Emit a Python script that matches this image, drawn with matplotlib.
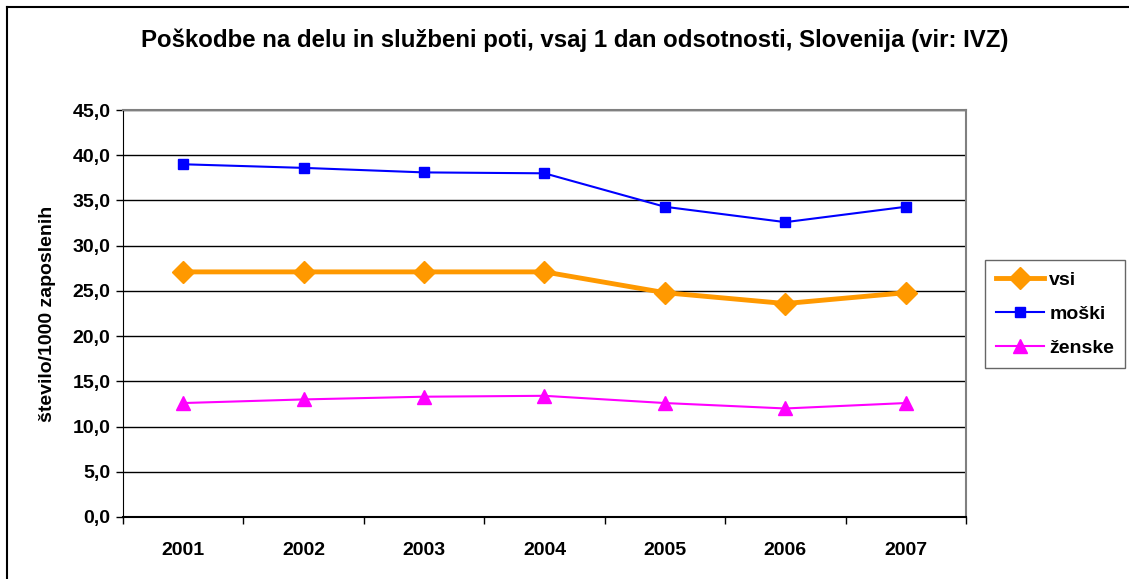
import matplotlib.pyplot as plt
from matplotlib.lines import Line2D

plt.rcParams['font.family'] = ['Liberation Sans', 'DejaVu Sans']

leta = ['2001', '2002', '2003', '2004', '2005', '2006', '2007']
vsi = [27.1, 27.1, 27.1, 27.1, 24.8, 23.6, 24.8]
moski = [39.0, 38.6, 38.1, 38.0, 34.3, 32.6, 34.3]
zenske = [12.6, 13.0, 13.3, 13.4, 12.6, 12.0, 12.6]
yticks = [0, 5, 10, 15, 20, 25, 30, 35, 40, 45]

fig = plt.figure(figsize=(11.29, 5.79), dpi=100)
ax = fig.add_axes([123/1129, 62/579, 843/1129, 407/579])

x = range(len(leta))
ax.plot(x, vsi, color='#FF9900', lw=3.5, marker='D', ms=11, label='vsi', zorder=3)
ax.plot(x, moski, color='#0000FF', lw=1.5, marker='s', ms=7, label='moški', zorder=4)
ax.plot(x, zenske, color='#FF00FF', lw=1.5, marker='^', ms=10, label='ženske', zorder=3)

ax.set_xlim(-0.5, 6.5)
ax.set_ylim(0, 45)
ax.set_yticks(yticks)
ax.set_yticklabels([('%.1f' % v).replace('.', ',') for v in yticks])
ax.tick_params(axis='y', labelsize=14, direction='out', length=5, width=1, pad=4)
for lab in ax.get_yticklabels():
    lab.set_fontweight('bold')

ax.set_xticks(list(x))
ax.set_xticklabels(leta, fontsize=14, fontweight='bold')
ax.tick_params(axis='x', length=0, pad=18)
ax.set_xticks([i - 0.5 for i in range(len(leta) + 1)], minor=True)
ax.tick_params(axis='x', which='minor', direction='out', length=5, width=1)

ax.grid(axis='y', color='black', lw=1)
ax.set_axisbelow(True)
for s in ['top', 'right']:
    ax.spines[s].set_color('#808080')
    ax.spines[s].set_linewidth(1.5)
ax.spines['left'].set_color('black')
ax.spines['bottom'].set_color('black')
ax.spines['bottom'].set_linewidth(1.5)

ax.set_ylabel('število/1000 zaposlenih', fontsize=14, fontweight='bold', labelpad=12)

fig.suptitle('Poškodbe na delu in službeni poti, vsaj 1 dan odsotnosti, Slovenija (vir: IVZ)',
             x=575/1129, y=1 - 40/579, va='center', fontsize=17.3, fontweight='bold')

leg = ax.legend(loc='center left', frameon=True,
                fancybox=False, edgecolor='#404040', prop={'weight': 'bold', 'size': 14},
                handlelength=2.5, borderpad=0.55, labelspacing=0.85, handletextpad=0.25,
                borderaxespad=0)
leg.set_bbox_to_anchor((985/1129, 1 - 314/579), transform=fig.transFigure)
leg.get_frame().set_linewidth(1)

fig.add_artist(Line2D([7/1129, 1], [1 - 7/579, 1 - 7/579], color='black', lw=1.5,
                      transform=fig.transFigure))
fig.add_artist(Line2D([7/1129, 7/1129], [0, 1 - 7/579], color='black', lw=1.5,
                      transform=fig.transFigure))

fig.savefig('out.png', dpi=100, facecolor='white')
